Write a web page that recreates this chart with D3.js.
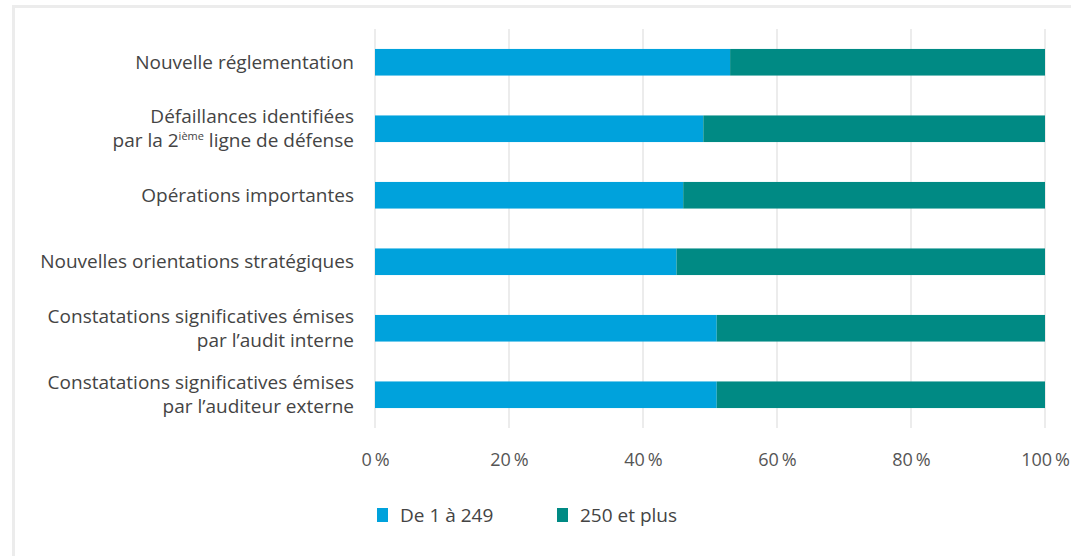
<!DOCTYPE html>
<meta charset="utf-8">
<script src="https://d3js.org/d3.v7.min.js"></script>
<style>
  body { margin: 0; background: #fff; }
  text { font-family: "Open Sans", "Noto Sans", sans-serif; fill: #444; }
</style>
<div id="my_dataviz"></div>
<script>

// categories, each one split in lines (the "2ième" line gets its superscript below)
var categories = [
  ["Nouvelle réglementation"],
  ["Défaillances identifiées", "par la 2|ième| ligne de défense"],
  ["Opérations importantes"],
  ["Nouvelles orientations stratégiques"],
  ["Constatations significatives émises", "par l’audit interne"],
  ["Constatations significatives émises", "par l’auditeur externe"]
]
var series = ["De 1 à 249", "250 et plus"]
var small = [53, 49, 46, 45, 51, 51]      // % de 1 à 249
var large = [47, 51, 54, 55, 49, 49]      // % 250 et plus
var ticks = [0, 20, 40, 60, 80, 100]
var colors = ["#00a2dc", "#008a84"]

var width = 1071, height = 556
var margin = {top: 29, left: 375, right: 26, bottom: 128}

var svg = d3.select("#my_dataviz")
  .append("svg")
    .attr("width", width)
    .attr("height", height)

// light frame
svg.append("rect")
  .attr("x", 13.5).attr("y", 6.5)
  .attr("width", width).attr("height", height)
  .attr("fill", "none")
  .attr("stroke", "#ececec")
  .attr("stroke-width", 3)

var x = d3.scaleLinear()
  .domain([0, 100])
  .range([margin.left, width - margin.right])

var y = d3.scaleBand()
  .domain(d3.range(categories.length))
  .range([margin.top, height - margin.bottom])
  .paddingInner(0.6)
  .paddingOuter(0.3)

// grid
svg.append("g")
  .selectAll("line")
  .data(ticks)
  .enter()
  .append("line")
    .attr("x1", function(d) { return x(d) })
    .attr("x2", function(d) { return x(d) })
    .attr("y1", margin.top)
    .attr("y2", height - margin.bottom)
    .attr("stroke", "#ececec")
    .attr("stroke-width", 2)

// stacked bars
var rows = small.map(function(v, i) { return {i: i, a: v, b: large[i]} })
var stack = d3.stack().keys(["a", "b"])(rows)

svg.append("g")
  .selectAll("g")
  .data(stack)
  .enter()
  .append("g")
    .attr("fill", function(d, k) { return colors[k] })
  .selectAll("rect")
  .data(function(d) { return d })
  .enter()
  .append("rect")
    .attr("x", function(d) { return x(d[0]) })
    .attr("width", function(d) { return x(d[1]) - x(d[0]) })
    .attr("y", function(d) { return y(d.data.i) })
    .attr("height", y.bandwidth())

// x axis labels
var xAxis = svg.append("g")
  .attr("transform", "translate(0," + (height - margin.bottom + 22) + ")")
  .call(d3.axisBottom(x).tickValues(ticks).tickSize(0).tickFormat(function(d) { return d + "\u2009%" }))
xAxis.select(".domain").remove()
xAxis.selectAll("text")
  .style("font-size", "18px")
  .style("fill", "#555")
  .style("font-family", "\"Open Sans\", sans-serif")

// category labels
var lineH = 24
categories.forEach(function(lines, i) {
  var cy = y(i) + y.bandwidth() / 2
  var y0 = cy - (lines.length - 1) * lineH / 2
  lines.forEach(function(l, j) {
    var t = svg.append("text")
      .attr("x", 354)
      .attr("y", y0 + j * lineH)
      .attr("dy", "0.35em")
      .attr("text-anchor", "end")
      .style("font-size", "19px")
    var parts = l.split("|")
    parts.forEach(function(p, k) {
      var s = t.append("tspan").text(p)
      if (k % 2 == 1) {
        s.attr("dy", -7).style("font-size", "11px")
      } else if (k > 0) {
        s.attr("dy", 7)
      }
    })
  })
})

// legend
var legend = svg.append("g")
  .selectAll("g")
  .data(series)
  .enter()
  .append("g")
    .attr("transform", function(d, i) { return "translate(" + (377 + i * 180) + ",508)" })
legend.append("rect")
  .attr("width", 11).attr("height", 14)
  .attr("fill", function(d, i) { return colors[i] })
legend.append("text")
  .attr("x", 23).attr("y", 7)
  .attr("dy", "0.35em")
  .style("font-size", "19px")
  .text(function(d) { return d })

</script>
